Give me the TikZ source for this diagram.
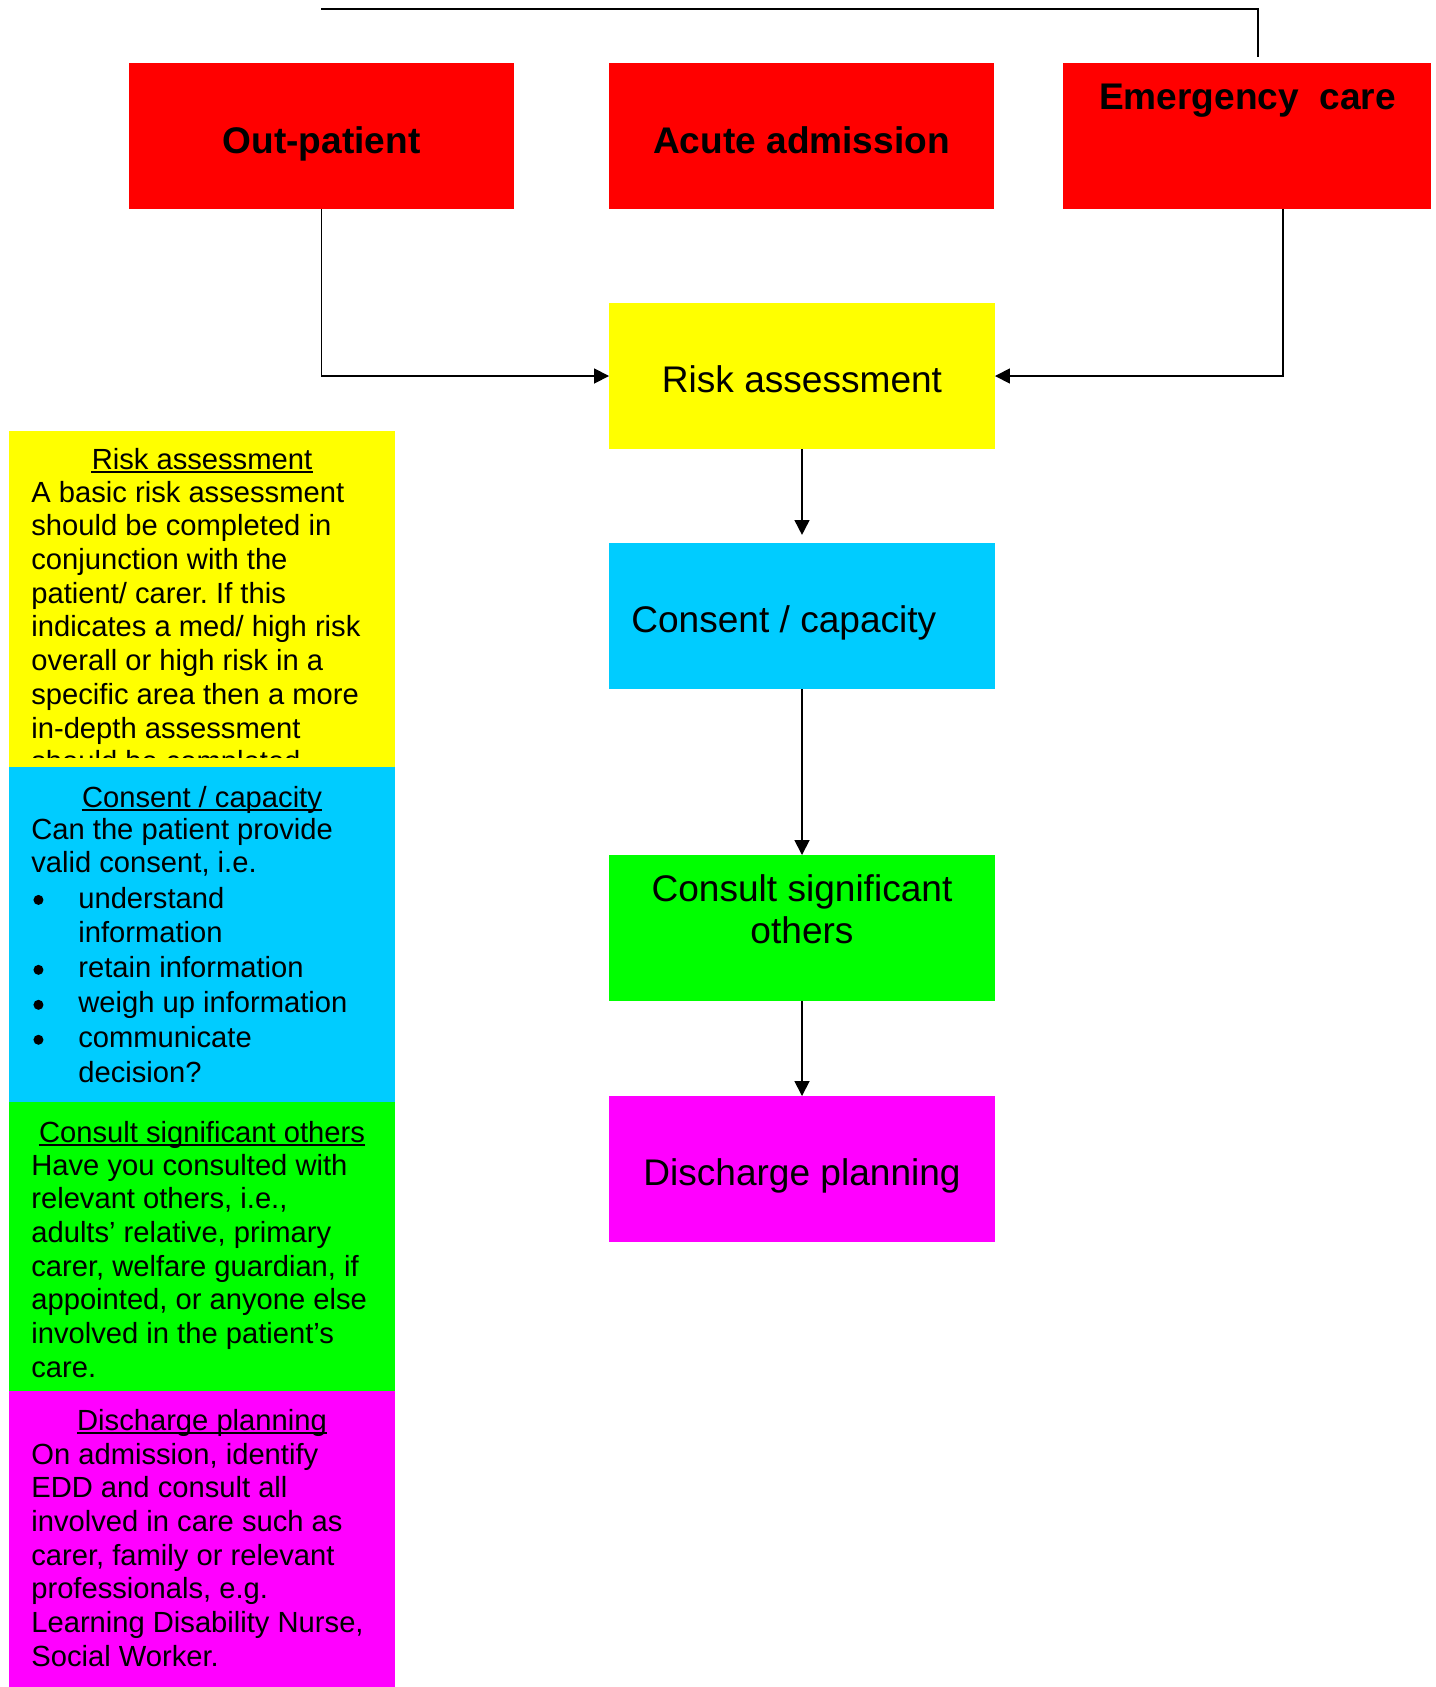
\documentclass[tikz,border=0pt]{standalone}
\usepackage{fontspec}
\setmainfont{Liberation Sans}
\usetikzlibrary{arrows.meta}
\frenchspacing

\definecolor{boxred}{HTML}{FF0000}
\definecolor{boxyellow}{HTML}{FFFF00}
\definecolor{boxcyan}{HTML}{00CCFF}
\definecolor{boxgreen}{HTML}{00FF00}
\definecolor{boxmagenta}{HTML}{FF00FF}

\newcommand{\boxfont}{\fontsize{21.1}{24}\selectfont}
\newcommand{\notefont}{\fontsize{16.6}{19.2}\selectfont}
\newcommand{\notepar}[1]{\parbox[t]{7cm}{\raggedright #1}}
\newcommand{\bul}{\makebox[0.94cm][l]{\hspace{1.2pt}%
  \tikz[baseline=-4.6pt]\fill (0,0) circle[radius=2.85pt];}}

\tikzset{
  flowbox/.style={rectangle, inner sep=0pt, outer sep=0pt,
    minimum width=7.72cm, minimum height=2.92cm},
  notebox/.style={rectangle, inner sep=0pt, outer sep=0pt,
    minimum width=7.72cm, anchor=north west},
  boxtext/.style={inner sep=0pt, font=\boxfont, anchor=base},
  notetext/.style={inner sep=0pt, font=\notefont, anchor=base west},
  notehead/.style={inner sep=0pt, font=\notefont, anchor=base},
  flowline/.style={line width=1pt},
  flowarrow/.style={flowline, -{Triangle[length=8.5pt,width=8.5pt]}},
}

\begin{document}
\begin{tikzpicture}[x=0.02cm, y=-0.02cm]
  \useasboundingbox (0,0) rectangle (1436,1687);

  % entry boxes
  \node[flowbox, fill=boxred, minimum width=7.7cm] (outp) at (321.5,136) {};
  \node[flowbox, fill=boxred] (acute) at (801.5,136) {};
  \node[flowbox, fill=boxred, minimum width=7.36cm] (emerg) at (1247,136) {};
  \node[boxtext] (outp-t) at (321.5,153) {\bfseries Out-patient};
  \node[boxtext] (acute-t) at (801.5,153) {\bfseries Acute admission};
  \node[boxtext] (emerg-t) at (1247.5,109) {\bfseries Emergency\ \ care};

  % main column
  \node[flowbox, fill=boxyellow] (risk) at (802,376) {};
  \node[flowbox, fill=boxcyan] (consent) at (802,616) {};
  \node[flowbox, fill=boxgreen] (consult) at (802,928) {};
  \node[flowbox, fill=boxmagenta] (disch) at (802,1169) {};
  \node[boxtext] (risk-t) at (802,392) {Risk assessment};
  \node[boxtext, anchor=base west] (consent-t) at (631,632) {Consent / capacity};
  \node[boxtext] (consult-t) at (802,901)
       {\parbox[t]{7cm}{\centering Consult significant\\others}};
  \node[boxtext] (disch-t) at (802,1185) {Discharge planning};

  \coordinate (topstart) at (321,9);
  \coordinate (topend) at (1258,57);
  \draw [flowline] (topstart) -| (topend);
  \draw [flowarrow] (outp.south) |- (risk.west);
  \draw [flowarrow] ([xshift=20.5pt]emerg.south) |- (risk.east);
  \draw [flowarrow, shorten >=4.6pt] (risk.south) -- (consent.north);
  \draw [flowarrow] (consent.south) -- (consult.north);
  \draw [flowarrow] (consult.south) -- (disch.north);

  % notes on the left
  \node[notebox, fill=boxyellow, minimum height=6.72cm] (riskpanel) at (9,431) {};
  \node[notebox, fill=boxcyan, minimum height=6.7cm] (consentpanel) at (9,767) {};
  \node[notebox, fill=boxgreen, minimum height=5.78cm] (consultpanel) at (9,1102) {};
  \node[notebox, fill=boxmagenta, minimum height=5.92cm] (dischpanel) at (9,1391) {};

  \node[notehead] (riskhead) at (202,469) {Risk assessment};
  \begin{scope}
    \clip (9,431) rectangle (395,757);
    \node[notetext] (risknote) at (31,502) {\notepar{A basic risk assessment\\
      should be completed in\\conjunction with the\\patient/ carer. If this\\
      indicates a med/ high risk\\overall or high risk in a\\
      specific area then a more\\in-depth assessment\\should be completed}};
  \end{scope}

  \node[notehead] (consenthead) at (202,807) {Consent / capacity};
  \node[notetext] (consentnote) at (31,839)
       {\notepar{Can the patient provide\\valid consent, i.e.}};
  \node[notetext] (consentlist) at (31,908) {\fontsize{16.6}{19.9}\selectfont
    \notepar{\bul understand\\\hspace*{0.94cm}information\\
      \bul retain information\\\bul weigh up information\\
      \bul communicate\\\hspace*{0.94cm}decision?}};

  \node[notehead] (consulthead) at (202,1142) {Consult significant others};
  \node[notetext] (consultnote) at (31,1175) {\notepar{Have you consulted with\\
      relevant others, i.e.,\\adults’ relative, primary\\
      carer, welfare guardian, if\\appointed, or anyone else\\
      involved in the patient’s\\care.}};

  \node[notehead] (dischhead) at (202,1430) {Discharge planning};
  \node[notetext] (dischnote) at (31,1464) {\notepar{On admission, identify\\
      EDD and consult all\\involved in care such as\\
      carer, family or relevant\\professionals, e.g.\\
      Learning Disability Nurse,\\Social Worker.}};

  \foreach \h in {riskhead, consenthead, consulthead, dischhead}
    \draw [line width=1.2pt] ([yshift=-1.8pt]\h.base west) -- ([yshift=-1.8pt]\h.base east);
\end{tikzpicture}
\end{document}
